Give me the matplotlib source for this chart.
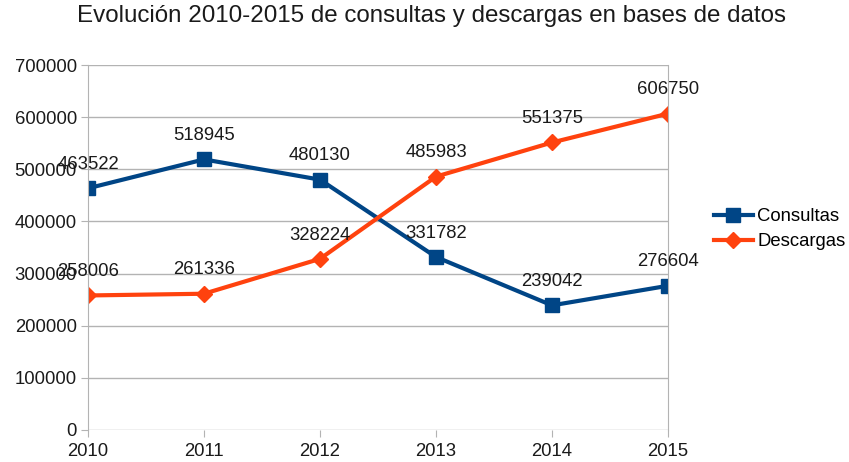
import matplotlib.pyplot as plt

plt.rcParams['font.family'] = ['Liberation Sans', 'DejaVu Sans']

years = [2010, 2011, 2012, 2013, 2014, 2015]
consultas = [463522, 518945, 480130, 331782, 239042, 276604]
descargas = [258006, 261336, 328224, 485983, 551375, 606750]
yticks = [0, 100000, 200000, 300000, 400000, 500000, 600000, 700000]

fig = plt.figure(figsize=(8.49, 4.62), dpi=100)
ax = fig.add_axes([88/849, 32/462, 580/849, 365/462])

ax.plot(years, consultas, color='#004586', lw=3, marker='s', ms=10, label='Consultas')
ax.plot(years, descargas, color='#ff420e', lw=3, marker='D', ms=8, label='Descargas')

for x, y in zip(years, consultas):
    ax.annotate(str(y), (x, y), xytext=(0, 11), textcoords='offset points',
                ha='center', va='bottom', fontsize=13.3, color='#1a1a1a')
for x, y in zip(years, descargas):
    ax.annotate(str(y), (x, y), xytext=(0, 11), textcoords='offset points',
                ha='center', va='bottom', fontsize=13.3, color='#1a1a1a')

ax.set_xlim(2010, 2015)
ax.set_ylim(0, 700000)
ax.set_yticks(yticks)
ax.set_yticklabels([str(v) for v in yticks])
ax.set_xticks(years)
ax.grid(axis='y', color='#b3b3b3', lw=1)
ax.set_axisbelow(True)
for s in ['top', 'bottom']:
    ax.spines[s].set_visible(False)
for s in ['left', 'right']:
    ax.spines[s].set_color('#b3b3b3')
ax.tick_params(axis='both', colors='#b3b3b3', labelcolor='#1a1a1a', labelsize=13.3, length=5)
ax.tick_params(axis='x', pad=4)
ax.tick_params(axis='y', pad=3)

fig.suptitle('Evolución 2010-2015 de consultas y descargas en bases de datos',
             x=431/849, y=0.99, fontsize=17.4, color='#1a1a1a')
ax.legend(loc='center left', bbox_to_anchor=(1.06, 0.55), frameon=False,
          fontsize=13.3, handlelength=2.1, handletextpad=0.25, labelspacing=0.45,
          borderaxespad=0.2)

fig.savefig('out.png', dpi=100)
